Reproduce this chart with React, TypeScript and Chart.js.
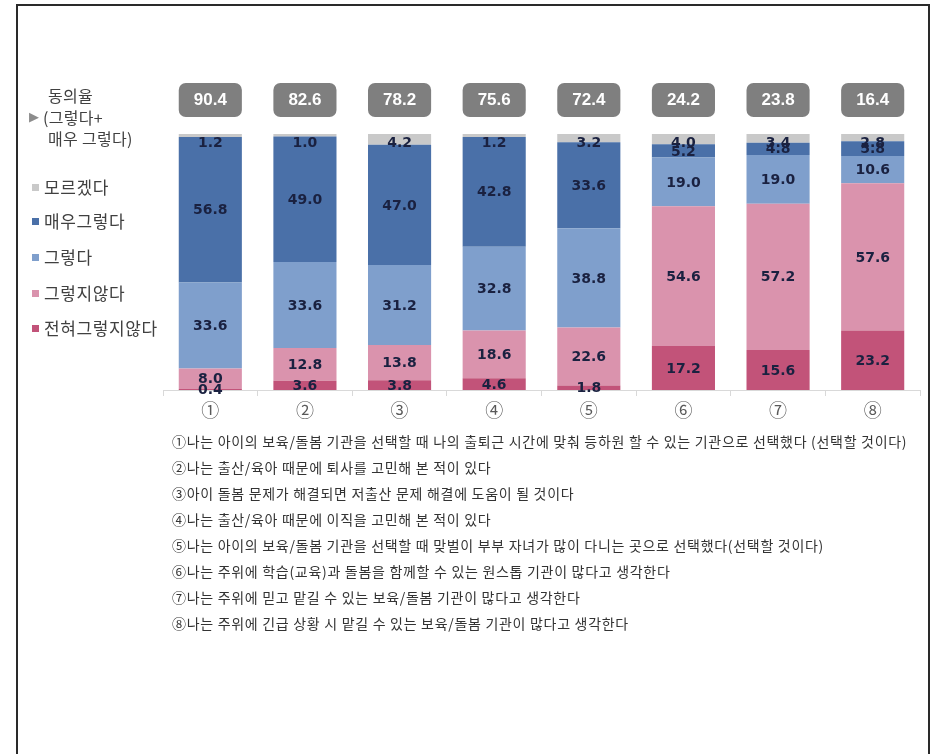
import React, { useEffect, useRef } from "react";
import { Chart, registerables } from "chart.js";
Chart.register(...registerables);

const categories = ["①", "②", "③", "④", "⑤", "⑥", "⑦", "⑧"];
const agreeRates = [90.4, 82.6, 78.2, 75.6, 72.4, 24.2, 23.8, 16.4];
const notSure = [1.2, 1.0, 4.2, 1.2, 3.2, 4.0, 3.4, 2.8];
const stronglyAgree = [56.8, 49.0, 47.0, 42.8, 33.6, 5.2, 4.8, 5.8];
const agree = [33.6, 33.6, 31.2, 32.8, 38.8, 19.0, 19.0, 10.6];
const disagree = [8.0, 12.8, 13.8, 18.6, 22.6, 54.6, 57.2, 57.6];
const stronglyDisagree = [0.4, 3.6, 3.8, 4.6, 1.8, 17.2, 15.6, 23.2];
const seriesNames = ["모르겠다", "매우그렇다", "그렇다", "그렇지않다", "전혀그렇지않다"];
const seriesColors = ["#C9C9C9", "#4A70A8", "#7F9FCC", "#DA93AD", "#C25379"];
const agreeTitle = ["동의율", "(그렇다+", "매우 그렇다)"];
const footnotes = [
  "①나는 아이의 보육/돌봄 기관을 선택할 때 나의 출퇴근 시간에 맞춰 등하원 할 수 있는 기관으로 선택했다 (선택할 것이다)",
  "②나는 출산/육아 때문에 퇴사를 고민해 본 적이 있다",
  "③아이 돌봄 문제가 해결되면 저출산 문제 해결에 도움이 될 것이다",
  "④나는 출산/육아 때문에 이직을 고민해 본 적이 있다",
  "⑤나는 아이의 보육/돌봄 기관을 선택할 때 맞벌이 부부 자녀가 많이 다니는 곳으로 선택했다(선택할 것이다)",
  "⑥나는 주위에 학습(교육)과 돌봄을 함께할 수 있는 원스톱 기관이 많다고 생각한다",
  "⑦나는 주위에 믿고 맡길 수 있는 보육/돌봄 기관이 많다고 생각한다",
  "⑧나는 주위에 긴급 상황 시 맡길 수 있는 보육/돌봄 기관이 많다고 생각한다",
];

const KR = "'Noto Sans CJK KR', 'Noto Sans', sans-serif";

const labelPlugin = {
  id: "segLabels",
  afterDatasetsDraw(chart: any) {
    const ctx = chart.ctx as CanvasRenderingContext2D;
    const yScale = chart.scales.y;
    const top = yScale.getPixelForValue(100);
    ctx.save();
    ctx.textAlign = "center";
    ctx.textBaseline = "middle";
    ctx.font = "bold 14px 'DejaVu Sans'";
    ctx.fillStyle = "#1a2140";
    chart.data.datasets.forEach((ds: any, di: number) => {
      const meta = chart.getDatasetMeta(di);
      meta.data.forEach((el: any, i: number) => {
        const v = ds.data[i] as number;
        let y = (el.y + el.base) / 2;
        y = Math.max(y, top + 8);
        ctx.fillText(v.toFixed(1), el.x, y + 1);
      });
    });
    const meta0 = chart.getDatasetMeta(0);
    meta0.data.forEach((el: any, i: number) => {
      const w = el.width;
      const bx = el.x - w / 2;
      const by = top - 51;
      ctx.fillStyle = "#7F7F7F";
      ctx.beginPath();
      (ctx as any).roundRect(bx, by, w, 34, 7);
      ctx.fill();
      ctx.fillStyle = "#FFFFFF";
      ctx.font = "bold 17px 'Liberation Sans'";
      ctx.fillText(agreeRates[i].toFixed(1), el.x, by + 17.5);
    });
    ctx.restore();
  },
};

export default function App() {
  const ref = useRef<HTMLCanvasElement | null>(null);
  useEffect(() => {
    if (!ref.current) return;
    const stackData = [stronglyDisagree, disagree, agree, stronglyAgree, notSure];
    const stackNames = [seriesNames[4], seriesNames[3], seriesNames[2], seriesNames[1], seriesNames[0]];
    const stackColors = [seriesColors[4], seriesColors[3], seriesColors[2], seriesColors[1], seriesColors[0]];
    const chart = new Chart(ref.current, {
      type: "bar",
      data: {
        labels: categories,
        datasets: stackData.map((d, i) => ({
          label: stackNames[i],
          data: d,
          backgroundColor: stackColors[i],
          borderWidth: 0,
          barPercentage: 0.667,
          categoryPercentage: 1,
        })),
      },
      options: {
        responsive: false,
        animation: false,
        devicePixelRatio: 1,
        layout: { padding: { left: 163, right: 14, top: 134, bottom: 324 } },
        plugins: { legend: { display: false }, tooltip: { enabled: false } },
        scales: {
          x: {
            stacked: true,
            grid: {
              display: true,
              drawOnChartArea: false,
              drawTicks: true,
              tickLength: 6,
              color: "#D9D9D9",
              offset: true,
            },
            border: { display: true, color: "#D9D9D9", width: 1 },
            ticks: { color: "#595959", font: { family: KR, size: 18 }, padding: 3 },
            afterFit: (s: any) => {
              s.height = 40;
            },
          },
          y: { stacked: true, display: false, min: 0, max: 100 },
        },
      },
      plugins: [labelPlugin],
    });
    return () => chart.destroy();
  }, []);

  const legendY = [187, 221, 257, 293, 328];
  const titleY = [95, 117, 138];

  return (
    <div style={{ position: "fixed", left: 0, top: 0, width: 934, height: 754, background: "#fff", overflow: "hidden" }}>
      <div
        style={{
          position: "absolute",
          left: 16,
          top: 4,
          width: 910,
          height: 800,
          borderLeft: "2px solid #2a2a2a",
          borderTop: "2px solid #2a2a2a",
          borderRight: "2px solid #2a2a2a",
        }}
      />
      <canvas ref={ref} width={934} height={754} style={{ position: "absolute", left: 0, top: 0 }} />
      {agreeTitle.map((t, i) => (
        <div
          key={"t" + i}
          style={{
            position: "absolute",
            left: i === 1 ? 43 : 48,
            top: titleY[i] - 11,
            lineHeight: "22px",
            fontFamily: KR,
            fontSize: 16,
            letterSpacing: 0.3,
            color: "#404040",
            whiteSpace: "nowrap",
          }}
        >
          {t}
        </div>
      ))}
      <div
        style={{
          position: "absolute",
          left: 29,
          top: titleY[1] - 11,
          lineHeight: "22px",
          fontSize: 13,
          color: "#8C8C8C",
          fontFamily: "'DejaVu Sans', sans-serif",
        }}
      >
        ▶
      </div>
      {seriesNames.map((n, i) => (
        <div
          key={"l" + i}
          style={{
            position: "absolute",
            left: 32,
            top: legendY[i] - 11,
            lineHeight: "22px",
            height: 22,
            fontFamily: KR,
            fontSize: 17,
            letterSpacing: 0.6,
            color: "#404040",
            whiteSpace: "nowrap",
            display: "flex",
            alignItems: "center",
          }}
        >
          <span style={{ display: "inline-block", width: 7, height: 7, background: seriesColors[i], marginRight: 5 }} />
          {n}
        </div>
      ))}
      {footnotes.map((f, i) => (
        <div
          key={"f" + i}
          style={{
            position: "absolute",
            left: 172,
            top: 441 + i * 26 - 10,
            lineHeight: "20px",
            fontFamily: KR,
            fontSize: 14,
            color: "#333333",
            whiteSpace: "nowrap",
            letterSpacing: 0.7,
          }}
        >
          {f}
        </div>
      ))}
    </div>
  );
}
